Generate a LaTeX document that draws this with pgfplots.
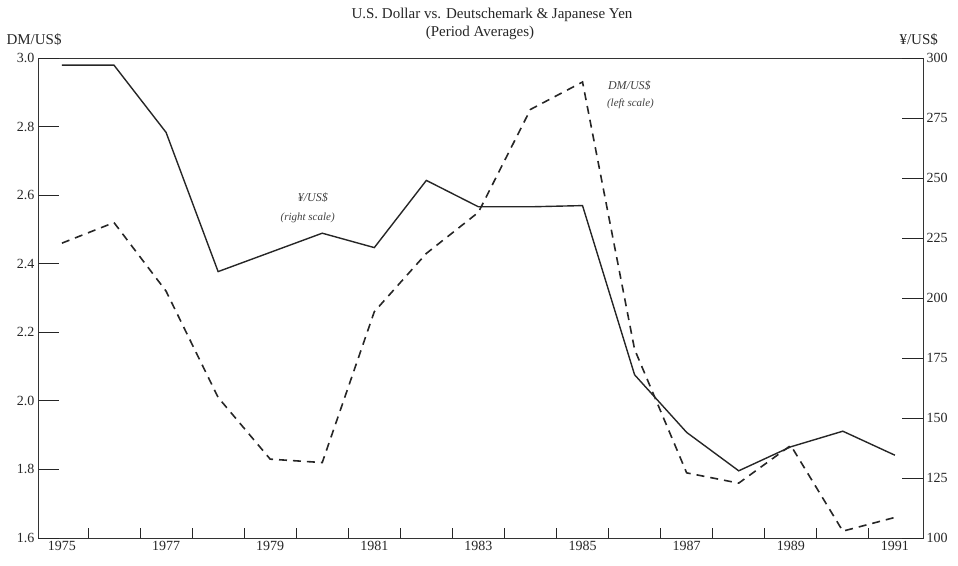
\documentclass[border=0pt]{standalone}
\usepackage{fontspec}
\setmainfont{Liberation Serif}
\usepackage{pgfplots}
\pgfplotsset{compat=1.18}
\begin{document}
\begin{tikzpicture}[x=1pt,y=1pt]
\path[use as bounding box] (-38,-27) rectangle (920,538);
% frame and x axis
\begin{axis}[
  at={(0,0)}, anchor=south west,
  scale only axis, width=885pt, height=480pt,
  xmin=1974.54, xmax=1991.54,
  ymin=0, ymax=1, ytick=\empty,
  axis line style={black!80, line width=0.8pt},
  tick align=inside,
  xtick pos=left,
  major tick length=10pt,
  tick style={black!85, line width=0.8pt},
  xtick={1975.5,1976.5,1977.5,1978.5,1979.5,1980.5,1981.5,1982.5,1983.5,1984.5,1985.5,1986.5,1987.5,1988.5,1989.5,1990.5},
  xticklabels={},
  extra x ticks={1975,1977,1979,1981,1983,1985,1987,1989,1991},
  extra x tick labels={1975,1977,1979,1981,1983,1985,1987,1989,1991},
  extra x tick style={major tick length=0pt, tick style={draw=none}},
  ticklabel style={font=\fontsize{14}{15}\selectfont, text=black!85},
]
\end{axis}
% DM/US$ left scale
\begin{axis}[
  at={(0,0)}, anchor=south west,
  scale only axis, width=885pt, height=480pt,
  xmin=1974.54, xmax=1991.54,
  ymin=1.6, ymax=3.0,
  hide x axis,
  axis y line*=left,
  axis line style={black!80, line width=0.8pt},
  tick align=inside,
  major tick length=21pt,
  tick style={black!85, line width=0.8pt},
  ytick={1.6,1.8,2.0,2.2,2.4,2.6,2.8,3.0},
  yticklabels={1.6,1.8,2.0,2.2,2.4,2.6,2.8,3.0},
  ticklabel style={font=\fontsize{14}{15}\selectfont, text=black!85},
  clip=false,
]
\addplot[black!85, line width=1.6pt, dash pattern=on 8pt off 6pt] coordinates {
(1975,2.46) (1976,2.52) (1977,2.32) (1978,2.01) (1979,1.83) (1980,1.82)
(1981,2.26) (1982,2.43) (1983,2.55) (1984,2.85) (1985,2.93) (1986,2.15)
(1987,1.79) (1988,1.76) (1989,1.87) (1990,1.62) (1991,1.66)};
\node[font=\itshape\fontsize{12}{13}\selectfont, text=black!75] at (axis cs:1979.82,2.593) {¥/US\$};
\node[font=\itshape\fontsize{11}{12}\selectfont, text=black!75] at (axis cs:1979.72,2.535) {(right scale)};
\node[font=\itshape\fontsize{12}{13}\selectfont, text=black!75] at (axis cs:1985.9,2.92) {DM/US\$};
\node[font=\itshape\fontsize{11}{12}\selectfont, text=black!75] at (axis cs:1985.92,2.865) {(left scale)};
\end{axis}
% Yen/US$ right scale
\begin{axis}[
  at={(0,0)}, anchor=south west,
  scale only axis, width=885pt, height=480pt,
  xmin=1974.54, xmax=1991.54,
  ymin=100, ymax=300,
  hide x axis,
  axis y line*=right,
  axis line style={black!80, line width=0.8pt},
  tick align=inside,
  major tick length=21pt,
  tick style={black!85, line width=0.8pt},
  ytick={100,125,150,175,200,225,250,275,300},
  yticklabels={100,125,150,175,200,225,250,275,300},
  ticklabel style={font=\fontsize{14}{15}\selectfont, text=black!85},
]
\addplot[black!85, line width=1.4pt] coordinates {
(1975,297) (1976,297) (1977,269) (1978,211) (1979,219) (1980,227)
(1981,221) (1982,249) (1983,238) (1984,238) (1985,238.5) (1986,168)
(1987,144) (1988,128) (1989,138) (1990,144.5) (1991,134.5)};
\end{axis}
\node[font=\fontsize{15}{16}\selectfont, text=black!85] at (454,523) {U.S. Dollar vs. Deutschemark \& Japanese Yen};
\node[font=\fontsize{15}{16}\selectfont, text=black!85] at (442,505) {(Period Averages)};
\node[anchor=west, font=\fontsize{15}{16}\selectfont, text=black!85] at (-35,498) {DM/US\$};
\node[anchor=west, font=\fontsize{15}{16}\selectfont, text=black!85] at (858,498) {¥/US\$};
\end{tikzpicture}
\end{document}
